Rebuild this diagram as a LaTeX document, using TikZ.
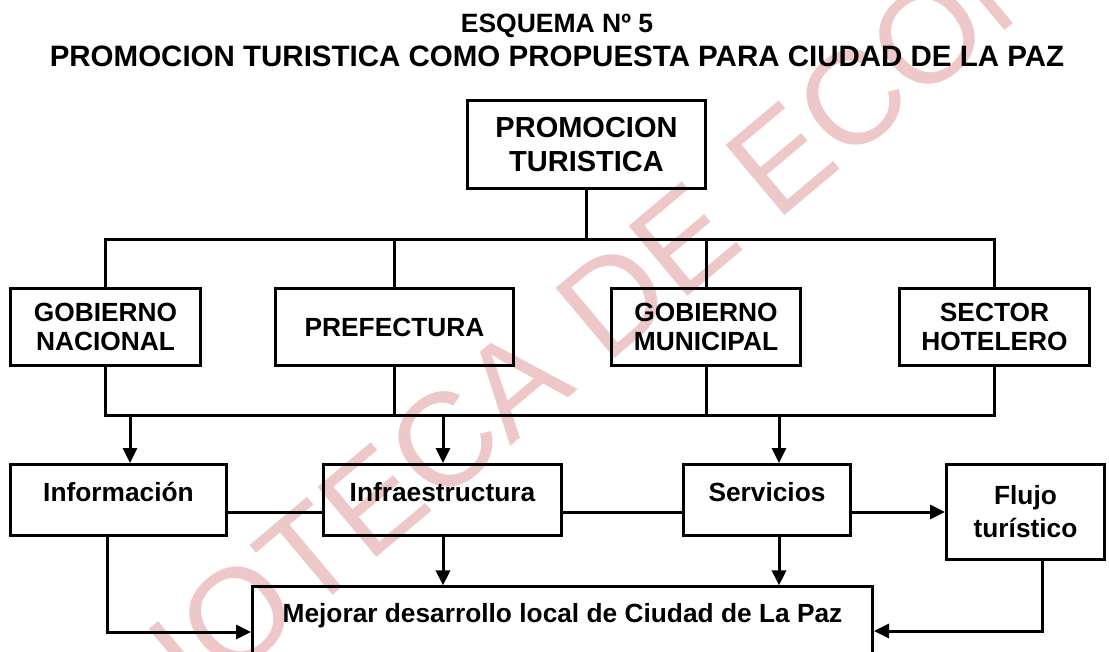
\documentclass[tikz,border=0pt]{standalone}
\usepackage{fontspec}
\setmainfont{Liberation Sans}
\usetikzlibrary{arrows.meta, positioning}

\definecolor{marca}{RGB}{238,200,200}

\begin{document}
\begin{tikzpicture}[
  x=1pt, y=-1pt,
  every path/.style={line width=3pt},
  every node/.style={inner sep=0pt, font=\bfseries\fontsize{26.3}{28.3}\selectfont},
  caja/.style={draw, align=center, minimum height=77pt},
  fila/.style={caja, minimum height=71pt, text height=19pt, text depth=17pt},
  flecha/.style={-{Triangle[length=15pt, width=14pt]}}
]
\useasboundingbox (0,0) rectangle (1109,651);

\node[rotate=40, text=marca, font=\fontsize{133}{133}\selectfont] (sello) at (625,290) {BIBLIOTECA DE ECONOMIA};

\node[font=\bfseries\fontsize{29.5}{34}\selectfont, align=center] (titulo) at (557,40)
  {{\fontsize{26.5}{34}\selectfont ESQUEMA Nº 5}\\PROMOCION TURISTICA COMO PROPUESTA PARA CIUDAD DE LA PAZ};

\node[caja, font=\bfseries\fontsize{29}{34}\selectfont, minimum width=238pt, minimum height=88pt] (promo) at (586.5,144.5) {PROMOCION\\TURISTICA};

\node[caja, minimum width=190pt] (gnac) at (105.5,327) {GOBIERNO\\NACIONAL};
\node[caja, minimum width=238pt] (pref) at (394.5,327) {PREFECTURA};
\node[caja, minimum width=189pt] (gmun) at (706,327) {GOBIERNO\\MUNICIPAL};
\node[caja, minimum width=190pt] (shot) at (994.5,327) {SECTOR\\HOTELERO};

\node[fila, minimum width=216pt] (info) at (118.5,500) {Información};
\node[fila, minimum width=238pt] (infra) at (442.5,500) {Infraestructura};
\node[fila, minimum width=167pt] (serv) at (767,500) {Servicios};
\node[caja, minimum width=158pt, minimum height=95pt, font=\bfseries\fontsize{26.3}{33}\selectfont] (flujo) at (1025.5,512) {Flujo\\turístico};

\node[anchor=north, draw, minimum width=620pt, text height=19pt, text depth=80pt, inner ysep=17pt] (mejora) at (562.5,585.4)
  {Mejorar desarrollo local de Ciudad de La Paz};

\coordinate (busarr) at (0,239);
\coordinate (busab) at (0,415);
\coordinate (a1) at (130,415);
\coordinate (a2) at (443,415);
\coordinate (a3) at (779,415);
\coordinate (medio) at (0,512);
\coordinate (ci) at (107,632);
\coordinate (cf) at (1042,631);

\draw (promo.south) -- (promo.south |- busarr);
\draw (gnac.north) |- (busarr -| shot.north) -- (shot.north);
\draw (pref.north) -- (pref.north |- busarr);
\draw (gmun.north) -- (gmun.north |- busarr);
\draw (gnac.south) |- (busab -| shot.south) -- (shot.south);
\draw (pref.south) -- (pref.south |- busab);
\draw (gmun.south) -- (gmun.south |- busab);

\draw[flecha] (a1) -- (a1 |- info.north);
\draw[flecha] (a2) -- (a2 |- infra.north);
\draw[flecha] (a3) -- (a3 |- serv.north);

\draw (info.east |- medio) -- (infra.west |- medio);
\draw (infra.east |- medio) -- (serv.west |- medio);
\draw[flecha] (serv.east |- medio) -- (flujo.west |- medio);

\draw[flecha] (infra.south -| a2) -- (mejora.north -| a2);
\draw[flecha] (serv.south -| a3) -- (mejora.north -| a3);
\draw[flecha] (info.south -| ci) -- (ci) -- (mejora.west |- ci);
\draw[flecha] (flujo.south -| cf) -- (cf) -- (mejora.east |- cf);
\end{tikzpicture}
\end{document}
